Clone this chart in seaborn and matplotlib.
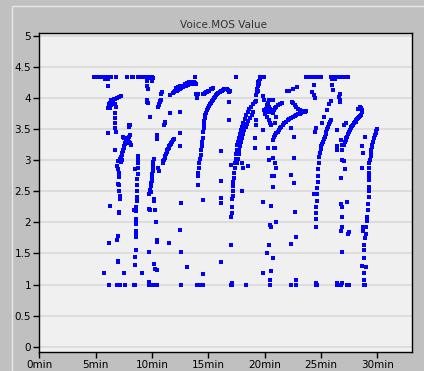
import matplotlib
matplotlib.use("Agg")
import matplotlib.pyplot as plt
import seaborn as sns
import pandas as pd
from matplotlib.lines import Line2D

# ---- data: (minutes, MOS), grouped per call burst ----
burst_05_07 = [
    (4.88, 4.33), (4.98, 4.33), (5.08, 4.33), (5.18, 4.33), (5.28, 4.33), (5.38, 4.33),
    (5.48, 4.33), (5.58, 4.33), (5.68, 4.33), (5.78, 4.33), (5.85, 4.31), (5.92, 4.33),
    (5.98, 4.31), (6.05, 4.32), (6.12, 4.31), (6.2, 4.33), (6.32, 4.33), (6.85, 4.33),
    (6.12, 4.19),
    (6.12, 3.84), (6.18, 3.87), (6.22, 3.9), (6.28, 3.92), (6.33, 3.95), (6.4, 3.96),
    (6.5, 3.97), (6.62, 3.98), (6.75, 3.99), (6.9, 4.0), (7.05, 4.02), (7.22, 4.03),
    (6.3, 3.84), (6.38, 3.88), (6.45, 3.91), (6.55, 3.93), (6.7, 3.9), (6.78, 3.86),
    (6.72, 3.76), (6.72, 3.68), (6.75, 3.59), (6.68, 3.52), (6.8, 3.46), (6.12, 3.43),
    (6.72, 3.16),
    (6.98, 2.98), (6.87, 2.9), (6.95, 2.85), (7.05, 2.8), (7.08, 2.73), (6.95, 2.62),
    (7.05, 2.6), (7.1, 2.5), (7.15, 2.42), (7.18, 2.37), (7.1, 2.17), (7.05, 2.15),
    (6.95, 1.78), (6.9, 1.72), (6.95, 1.38), (7.0, 1.36),
    (6.3, 2.26), (6.22, 1.66), (5.7, 1.18), (6.18, 1.0), (6.9, 1.0), (6.98, 1.0),
    (7.05, 1.0), (7.15, 1.0), (7.62, 1.0), (7.55, 1.18),
]

burst_07_10 = [
    (7.2, 3.02), (7.25, 3.05), (7.3, 3.08), (7.35, 3.11), (7.4, 3.14), (7.45, 3.17),
    (7.5, 3.2), (7.55, 3.23), (7.6, 3.26), (7.65, 3.28), (7.7, 3.3), (7.75, 3.32),
    (7.82, 3.34), (7.88, 3.36), (7.95, 3.38), (8.02, 3.4), (7.45, 3.38), (7.55, 3.36),
    (7.68, 3.34), (7.78, 3.27), (7.95, 3.3), (8.05, 3.27), (8.12, 3.25), (8.0, 3.57),
    (8.08, 3.56), (7.92, 3.54), (7.35, 3.0), (7.28, 2.97),
    (8.8, 3.07), (8.8, 3.02), (8.78, 2.95), (8.75, 2.88), (8.72, 2.78), (8.7, 2.7),
    (8.7, 2.6), (8.68, 2.5), (8.65, 2.4), (8.66, 2.35), (8.62, 2.25), (8.62, 2.18),
    (8.57, 2.05), (8.6, 2.0), (8.62, 1.97), (8.6, 1.86), (8.58, 1.8), (8.62, 1.76),
    (8.57, 1.55), (8.5, 1.45), (8.45, 1.32), (8.42, 2.2), (8.45, 2.86),
    (8.42, 1.0), (8.52, 1.0), (9.1, 1.18),
    (7.75, 4.33), (8.25, 4.33), (8.35, 4.33), (8.8, 4.33), (8.9, 4.33), (9.0, 4.33),
    (9.1, 4.33), (9.2, 4.33), (9.3, 4.33), (9.4, 4.33), (9.5, 4.33), (9.6, 4.33),
    (9.7, 4.32), (9.8, 4.33), (9.9, 4.32), (10.0, 4.33), (10.05, 4.32),
]

burst_10_12 = [
    (9.53, 4.27), (9.57, 4.2), (9.62, 4.14), (10.0, 4.27), (9.53, 3.97), (9.6, 3.94),
    (9.67, 3.92), (9.82, 3.7),
    (9.75, 2.45), (9.82, 2.52), (9.88, 2.58), (9.92, 2.63), (9.97, 2.68), (10.0, 2.73),
    (10.03, 2.78), (10.05, 2.85), (10.08, 2.92), (10.1, 2.97), (10.15, 3.02), (9.9, 2.48),
    (9.95, 2.6), (10.02, 2.66), (10.1, 2.82),
    (9.7, 2.22), (9.85, 2.2), (10.2, 2.38), (10.15, 2.35), (10.25, 2.2), (10.4, 2.0),
    (10.45, 1.72), (10.45, 1.69), (10.15, 1.33), (10.3, 1.25), (10.45, 1.24), (9.75, 1.52),
    (9.72, 1.0), (9.75, 1.04), (9.92, 1.0), (10.2, 1.0), (10.3, 1.0), (10.45, 1.0),
    (10.41, 3.37), (10.45, 3.4), (10.48, 3.34), (10.56, 2.87), (10.62, 2.83),
    (10.95, 2.95), (11.01, 2.98), (11.07, 3.01), (11.13, 3.04), (11.19, 3.07), (11.25, 3.1),
    (11.31, 3.13), (11.37, 3.16), (11.43, 3.18), (11.49, 3.2), (11.55, 3.22), (11.61, 3.24),
    (11.67, 3.26), (11.73, 3.28), (11.79, 3.3), (11.85, 3.32), (11.92, 3.34), (11.0, 2.96),
    (10.55, 3.86), (10.6, 3.88), (10.65, 3.9), (10.7, 3.93), (10.75, 3.95), (10.82, 3.97),
    (10.8, 4.07), (10.88, 4.09), (10.92, 4.1), (11.1, 3.57), (11.15, 3.59), (11.2, 3.61),
    (11.57, 4.04), (11.57, 3.76), (11.5, 1.66),
]

burst_12_14 = [
    (11.9, 4.08), (11.98, 4.1), (12.06, 4.11), (12.14, 4.12), (12.22, 4.12), (12.3, 4.13),
    (12.38, 4.14), (12.46, 4.15), (12.54, 4.16), (12.62, 4.17), (12.7, 4.18), (12.78, 4.18),
    (12.86, 4.19), (12.94, 4.2), (13.02, 4.2), (13.1, 4.21), (13.18, 4.21), (13.26, 4.22),
    (13.34, 4.22), (13.42, 4.23), (13.5, 4.23), (13.58, 4.23), (13.66, 4.24), (13.74, 4.24),
    (13.82, 4.24), (13.9, 4.22),
    (12.1, 4.16), (12.3, 4.18), (12.5, 4.19), (12.7, 4.2), (12.9, 4.22), (13.1, 4.24),
    (13.3, 4.25), (13.5, 4.26), (13.7, 4.26),
    (13.85, 4.34),
    (12.5, 3.78), (12.5, 3.43), (12.5, 3.22), (12.55, 2.31), (12.5, 1.88), (12.55, 1.53),
    (12.62, 1.0), (13.1, 1.29),
]

burst_14_17 = [
    (13.95, 4.07), (14.0, 4.0), (14.1, 4.07), (14.5, 4.07), (14.6, 4.07), (14.7, 4.08),
    (14.8, 4.09), (14.9, 4.1), (15.0, 4.11), (15.1, 4.12), (15.2, 4.14), (15.3, 4.15),
    (15.4, 4.16),
    (14.55, 3.45), (14.58, 3.52), (14.62, 3.58), (14.65, 3.63), (14.7, 3.68), (14.75, 3.72),
    (14.82, 3.76), (14.9, 3.8), (14.97, 3.84), (15.05, 3.87), (15.12, 3.9), (15.2, 3.92),
    (15.3, 3.95), (15.4, 3.97), (15.5, 4.0), (15.6, 4.02), (15.7, 4.04), (15.8, 4.06),
    (15.9, 4.08), (16.0, 4.1), (16.1, 4.11), (16.2, 4.12), (16.3, 4.13), (16.4, 4.14),
    (16.5, 4.15), (16.6, 4.15), (16.7, 4.15), (16.78, 4.13), (16.85, 4.1), (16.9, 4.12),
    (14.52, 3.35), (14.48, 3.29), (14.42, 3.22), (14.38, 3.16), (14.32, 3.08), (14.26, 3.02),
    (14.2, 2.95), (14.15, 2.88), (14.1, 2.8), (14.08, 2.75), (14.45, 3.24),
    (14.08, 2.6), (14.52, 2.36), (14.52, 1.17), (14.0, 1.0), (14.1, 1.0), (14.45, 1.0),
    (14.52, 1.0),
    (16.15, 3.14), (16.15, 2.67), (16.15, 2.39), (16.15, 2.31), (16.15, 1.37),
    (16.8, 3.64), (16.8, 3.93), (17.04, 2.93), (17.04, 1.64), (16.98, 1.0), (17.06, 1.0),
    (17.06, 1.03), (17.48, 4.34),
]

burst_17_20 = [
    (17.05, 2.09), (17.08, 2.15), (17.1, 2.25), (17.12, 2.38), (17.15, 2.42), (17.18, 2.5),
    (17.2, 2.58), (17.22, 2.65), (17.25, 2.72), (17.3, 2.8), (17.33, 2.88), (17.38, 2.95),
    (17.42, 3.02), (17.47, 3.1), (17.52, 3.17), (17.58, 3.24), (17.65, 3.3), (17.72, 3.36),
    (17.8, 3.42), (17.9, 3.48), (18.0, 3.54), (18.1, 3.6), (18.22, 3.66), (18.35, 3.72),
    (18.5, 3.77), (18.65, 3.82), (18.8, 3.86), (18.95, 3.9), (19.1, 3.93), (19.25, 3.95),
    (17.55, 2.95), (17.6, 3.02), (17.68, 3.1), (17.75, 3.17), (17.82, 3.23), (17.9, 3.3),
    (18.0, 3.36), (18.1, 3.42), (18.2, 3.48), (18.3, 3.53), (18.42, 3.58), (18.55, 3.63),
    (18.7, 3.68), (18.85, 3.73), (19.0, 3.78),
    (17.99, 2.95), (18.05, 2.87), (18.49, 2.91), (17.99, 2.5), (19.17, 3.36), (19.17, 3.19),
    (19.23, 3.65), (19.23, 3.57), (19.82, 3.49), (18.3, 1.0),
    (19.25, 4.05), (19.3, 4.1), (19.35, 4.15), (19.4, 4.2), (19.45, 4.25), (19.5, 4.28),
    (19.55, 4.3), (19.6, 4.33), (19.8, 4.34), (19.9, 4.33), (19.52, 4.22), (19.42, 4.12),
    (19.82, 4.03),
]

burst_20_23 = [
    (19.97, 3.8), (20.0, 3.75), (20.1, 3.83), (20.2, 3.88), (20.3, 3.92), (20.4, 3.96),
    (20.5, 3.97), (20.4, 3.86), (20.5, 3.82), (20.6, 3.78), (20.7, 3.76), (20.3, 3.78),
    (20.2, 3.7), (20.35, 3.65), (20.5, 3.6), (20.6, 3.56), (20.8, 3.8), (20.9, 3.84),
    (21.0, 3.86), (21.2, 3.88), (21.35, 3.9), (21.5, 3.92), (21.0, 3.7), (20.9, 3.6),
    (19.9, 3.96), (20.7, 3.97),
    (20.75, 3.33), (20.85, 3.38), (20.95, 3.4), (21.05, 3.43), (21.15, 3.46), (21.25, 3.49),
    (21.35, 3.52), (21.45, 3.54), (21.6, 3.57), (21.75, 3.6), (21.9, 3.62), (22.05, 3.64),
    (22.2, 3.66), (22.35, 3.68), (22.5, 3.7), (22.65, 3.71), (22.8, 3.72), (22.95, 3.74),
    (23.1, 3.75), (23.25, 3.76), (23.4, 3.77), (23.55, 3.78), (23.65, 3.79),
    (22.4, 3.94), (22.55, 3.92), (22.65, 3.88), (22.8, 3.85), (22.95, 3.82), (23.1, 3.8),
    (23.3, 3.79), (21.95, 4.11), (22.1, 4.11), (22.2, 4.12), (22.5, 4.15), (22.85, 4.17),
    (19.82, 2.33), (20.27, 3.19), (20.86, 3.2), (20.95, 3.2), (20.4, 3.0), (20.7, 3.03),
    (20.9, 2.95), (21.05, 2.88), (20.75, 2.57), (20.65, 2.75), (20.85, 2.75),
    (20.55, 2.27), (20.45, 1.95), (20.55, 1.93), (21.0, 2.01), (20.35, 1.64), (20.18, 1.5),
    (20.7, 1.42), (19.82, 1.18), (20.55, 1.21), (20.5, 1.07), (20.5, 1.0),
    (22.33, 3.52), (22.63, 3.38), (22.63, 3.03), (22.33, 2.76), (22.63, 2.64),
    (22.72, 2.16), (22.33, 1.65), (22.75, 1.77), (22.33, 1.0), (22.75, 1.08), (22.75, 1.0),
]

burst_23_26 = [
    (23.65, 4.33), (23.75, 4.33), (23.85, 4.33), (23.95, 4.33), (24.05, 4.33), (24.15, 4.33),
    (24.25, 4.33), (24.35, 4.33), (24.45, 4.33), (24.55, 4.33), (24.65, 4.33), (24.75, 4.33),
    (24.85, 4.33), (24.97, 4.33), (24.38, 4.21), (24.2, 4.1), (24.38, 4.04), (24.45, 4.0),
    (24.52, 3.52), (24.46, 3.46), (24.37, 2.46), (24.52, 1.93), (24.52, 1.0), (24.58, 1.03),
    (24.62, 1.0),
    (24.55, 2.05), (24.57, 2.15), (24.59, 2.25), (24.62, 2.35), (24.65, 2.45), (24.67, 2.55),
    (24.7, 2.65), (24.74, 2.75), (24.77, 2.85), (24.8, 2.95), (24.84, 3.05), (24.9, 3.12),
    (24.97, 3.18), (25.04, 3.22), (25.11, 3.26), (25.18, 3.3), (25.26, 3.34), (25.34, 3.38),
    (25.41, 3.42), (25.48, 3.46), (25.55, 3.5), (25.62, 3.54), (25.7, 3.58), (25.78, 3.61),
    (25.86, 3.64), (25.11, 3.6), (25.26, 3.7), (25.55, 3.81), (25.7, 3.9), (25.85, 3.95),
]

burst_26_28 = [
    (25.85, 4.33), (25.95, 4.33), (26.05, 4.33), (26.15, 4.33), (26.25, 4.33), (26.35, 4.33),
    (26.45, 4.33), (26.55, 4.33), (26.65, 4.33), (26.75, 4.33), (26.85, 4.33), (26.95, 4.33),
    (27.05, 4.33), (27.15, 4.33), (27.4, 4.33), (26.0, 4.3), (26.1, 4.31), (26.2, 4.3),
    (26.02, 4.21), (26.05, 4.13), (26.65, 4.06), (26.6, 4.02), (26.7, 3.97), (26.7, 3.93),
    (26.89, 3.17), (27.04, 3.25), (27.19, 3.33), (27.33, 3.38), (27.48, 3.46), (27.63, 3.51),
    (27.77, 3.55), (27.92, 3.6), (28.07, 3.62), (28.22, 3.66), (28.37, 3.69), (28.52, 3.73),
    (28.66, 3.77), (27.1, 3.29), (27.26, 3.35), (27.4, 3.42), (27.55, 3.48), (27.7, 3.53),
    (27.85, 3.57), (28.0, 3.61), (28.15, 3.64), (28.3, 3.68), (28.45, 3.71), (28.6, 3.8),
    (28.3, 3.82), (28.45, 3.86), (28.55, 3.84),
    (26.44, 3.49), (27.04, 3.57), (27.19, 3.6), (26.74, 3.33), (26.89, 3.25), (26.44, 3.17),
    (26.9, 3.0), (27.0, 2.98), (27.1, 2.85), (26.75, 2.72), (26.39, 3.49), (26.45, 3.22),
    (26.8, 2.29), (26.9, 2.24), (27.3, 2.32), (26.9, 2.09), (26.9, 1.93), (26.8, 1.86),
    (27.4, 1.82), (27.5, 1.85), (26.9, 1.53), (26.4, 1.0), (26.45, 1.03), (26.75, 1.0),
    (26.9, 1.02), (27.35, 1.0), (27.45, 1.0),
]

burst_28_30 = [
    (28.82, 1.0), (28.85, 1.08), (28.82, 1.18), (28.95, 1.29), (28.82, 1.42), (28.78, 1.55),
    (28.82, 1.63), (28.9, 1.75), (28.95, 1.82), (29.0, 1.93), (29.05, 2.02), (29.1, 2.09),
    (29.15, 2.2), (29.18, 2.3), (29.25, 2.41), (29.22, 2.5), (29.25, 2.57), (29.25, 2.68),
    (29.3, 2.74), (29.3, 2.8), (29.3, 2.87), (29.3, 2.95), (29.35, 3.0), (29.4, 3.06),
    (29.42, 3.12), (29.45, 3.17), (29.5, 3.21), (29.55, 3.25), (29.62, 3.3), (29.7, 3.36),
    (29.78, 3.4), (29.85, 3.44), (29.92, 3.47), (29.99, 3.5),
    (28.66, 3.22), (28.72, 3.11), (28.66, 2.87), (28.7, 1.86), (28.72, 1.93), (28.9, 3.38),
    (28.65, 1.3), (28.9, 1.0), (28.78, 1.0),
]

bursts = [burst_05_07, burst_07_10, burst_10_12, burst_12_14, burst_14_17,
          burst_17_20, burst_20_23, burst_23_26, burst_26_28, burst_28_30]

y_ticks = [0, 0.5, 1, 1.5, 2, 2.5, 3, 3.5, 4, 4.5, 5]
y_labels = ["0", "0.5", "1", "1.5", "2", "2.5", "3", "3.5", "4", "4.5", "5"]
x_ticks = [0, 5, 10, 15, 20, 25, 30]
x_labels = ["0min", "5min", "10min", "15min", "20min", "25min", "30min"]
title = "Voice.MOS Value"

df = pd.DataFrame([p for b in bursts for p in b], columns=["minutes", "mos"])

sns.set_theme(style="white")
plt.rcParams['font.family'] = ['DejaVu Sans']

W, H = 424, 371
fig = plt.figure(figsize=(W / 100, H / 100), dpi=100, facecolor='#c0c0c0')

# light panel border lines (left and top)
fig.add_artist(Line2D([11.5 / W, 11.5 / W], [0, 1 - 5.5 / H], transform=fig.transFigure,
                      color='#e6e6e6', lw=1))
fig.add_artist(Line2D([11.5 / W, 1], [1 - 5.5 / H, 1 - 5.5 / H], transform=fig.transFigure,
                      color='#e6e6e6', lw=1))

left, right, top, bottom = 39.3, 411.7, 33.3, 351.7
ax = fig.add_axes([left / W, 1 - bottom / H, (right - left) / W, (bottom - top) / H])
ax.set_facecolor('#f0f0f0')

sns.scatterplot(data=df, x="minutes", y="mos", marker='s', s=5, color='#0000ff',
                linewidth=0, ax=ax, zorder=3)

ax.set_xlim(0, 33.05)
ax.set_ylim(-0.08, 5.04)
ax.set_xticks(x_ticks)
ax.set_xticklabels(x_labels)
ax.set_yticks(y_ticks)
ax.set_yticklabels(y_labels)
ax.grid(axis='y', color='#d9d9d9', lw=1.2)
ax.grid(axis='x', visible=False)
ax.set_axisbelow(True)
for s in ax.spines.values():
    s.set_color('black')
    s.set_linewidth(1)
ax.tick_params(direction='out', length=4, width=1, colors='black', labelsize=7.5, pad=2,
               bottom=True, left=True)
ax.set_xlabel('')
ax.set_ylabel('')

fig.text(224 / W, 1 - 25 / H, title, ha='center', va='center', fontsize=7.5, color='#333333')

fig.savefig('out.png', dpi=100, facecolor=fig.get_facecolor())
